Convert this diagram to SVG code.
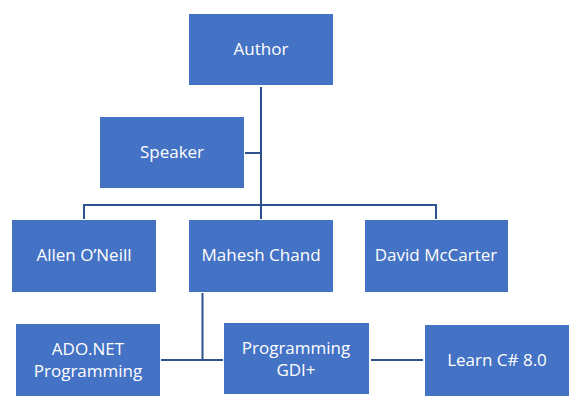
<svg xmlns="http://www.w3.org/2000/svg" width="576" height="411" viewBox="0 0 576 411">
<style>
.box{fill:#4472C4;}
.lbl{font-family:"Open Sans","Liberation Sans",sans-serif;font-size:17px;fill:#FFFFFF;text-anchor:middle;}
.ln{stroke:#2F528F;stroke-width:2;fill:none;}
</style>
<rect width="576" height="411" fill="#FFFFFF"/>
<g id="connectors">
<path class="ln" d="M261,87 V205"/>
<path class="ln" d="M245,153 H261"/>
<path class="ln" d="M84,219 V205 H436 V219"/>
<path class="ln" d="M261,205 V219"/>
<path class="ln" d="M202.5,293 V360"/>
<path class="ln" d="M161,360 H223"/>
<path class="ln" d="M371,360 H423"/>
</g>
<g id="author"><rect class="box" x="189" y="14" width="144" height="71"/><text class="lbl" x="261" y="55">Author</text></g>
<g id="speaker"><rect class="box" x="100" y="117" width="144" height="71"/><text class="lbl" x="172" y="158">Speaker</text></g>
<g id="allen"><rect class="box" x="12" y="220" width="144" height="72"/><text class="lbl" x="84" y="261">Allen O’Neill</text></g>
<g id="mahesh"><rect class="box" x="189" y="220" width="144" height="72"/><text class="lbl" x="261" y="261">Mahesh Chand</text></g>
<g id="david"><rect class="box" x="365" y="220" width="143" height="72"/><text class="lbl" x="436" y="261">David McCarter</text></g>
<g id="adonet"><rect class="box" x="16" y="324" width="144" height="72"/><text class="lbl" x="88" y="355">ADO.NET</text><text class="lbl" x="88" y="377">Programming</text></g>
<g id="gdi"><rect class="box" x="224" y="323" width="145" height="71"/><text class="lbl" x="296" y="354">Programming</text><text class="lbl" x="296" y="376">GDI+</text></g>
<g id="learn"><rect class="box" x="425" y="325" width="144" height="71"/><text class="lbl" x="497" y="366">Learn C# 8.0</text></g>
</svg>
